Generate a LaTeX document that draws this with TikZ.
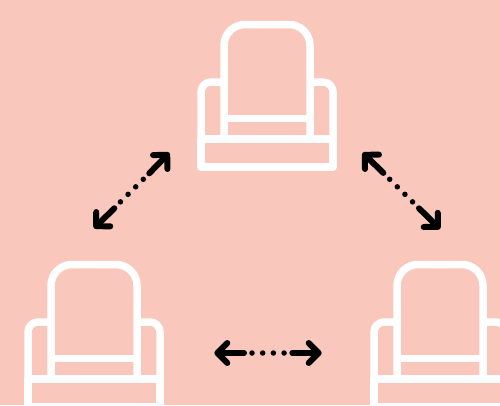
\documentclass[tikz,border=0pt]{standalone}
\usepackage{tikz}
\usetikzlibrary{arrows.meta}
\definecolor{bgpink}{HTML}{FAC7BD}
\tikzset{
    chairline/.style={draw=white,line width=7.5pt,line join=round},
    shaft/.style={draw=black,line width=6pt,line cap=round,line join=round,
        -{Straight Barb[round,length=10pt,width=20pt]}},
    dots/.style={draw=black,line width=5.5pt,line cap=round,dash pattern=on 0pt off 10.7pt},
    chair/.pic={
        \draw[chairline,rounded corners=21pt] (-43,139) -- (-43,24.5) -- (43,24.5) -- (43,139);
        \draw[chairline,rounded corners=10pt] (-43,82) -- (-66,82) -- (-66,139);
        \draw[chairline,rounded corners=10pt] (43,82) -- (66,82) -- (66,139);
        \draw[chairline] (-43,118.5) -- (43,118.5);
        \draw[chairline] (-66,139) rectangle (66,167);
    }
}

\begin{document}
\begin{tikzpicture}[x=1pt,y=-1pt]
    \fill[bgpink] (0,0) rectangle (500,405);
    \clip (0,0) rectangle (500,405);
    % Three chairs
    \pic at (267,0) {chair};
    \pic at (94,240) {chair};
    \pic at (440,240) {chair};

    % Ends of the arrows
    \coordinate (leftupper) at (169.3,152.7);
    \coordinate (leftlower) at (94,228.3);
    \coordinate (leftupperin) at (149.3,173.3);
    \coordinate (leftlowerin) at (114.3,208.3);
    \coordinate (leftdota) at (143.3,179.3);
    \coordinate (leftdotb) at (120.3,202);
    \coordinate (rightupper) at (362.7,152.7);
    \coordinate (rightlower) at (440,229);
    \coordinate (rightupperin) at (383.3,172.9);
    \coordinate (rightlowerin) at (419,208.3);
    \coordinate (rightdota) at (389.7,179.3);
    \coordinate (rightdotb) at (412.7,202);
    \coordinate (midleft) at (214.3,353);
    \coordinate (midright) at (321.7,353);
    \coordinate (midleftin) at (244,353);
    \coordinate (midrightin) at (292.3,353);
    \coordinate (middota) at (252,353);
    \coordinate (middotb) at (284.3,353);

    \draw[shaft] (leftupperin) -- (leftupper);
    \draw[shaft] (leftlowerin) -- (leftlower);
    \draw[dots] (leftdota) -- (leftdotb);
    \draw[shaft] (rightupperin) -- (rightupper);
    \draw[shaft] (rightlowerin) -- (rightlower);
    \draw[dots] (rightdota) -- (rightdotb);
    \draw[shaft] (midleftin) -- (midleft);
    \draw[shaft] (midrightin) -- (midright);
    \draw[dots] (middota) -- (middotb);
\end{tikzpicture}
\end{document}
